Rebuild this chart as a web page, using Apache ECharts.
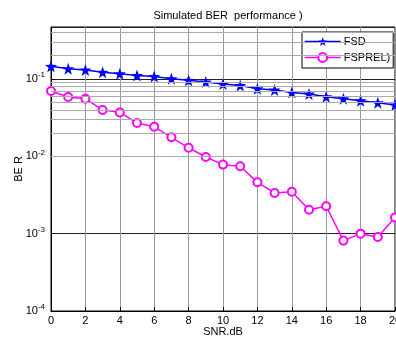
<!DOCTYPE html>
<html>
<head>
<meta charset="utf-8">
<script src="https://cdn.jsdelivr.net/npm/echarts@6/dist/echarts.min.js"></script>
<style>
html,body{margin:0;padding:0;background:#fff;}
#c{width:396px;height:338px;}
</style>
</head>
<body>
<div id="c"></div>
<script>
var snr = [0,1,2,3,4,5,6,7,8,9,10,11,12,13,14,15,16,17,18,19,20];
var fsd = [0.1456,0.136,0.131,0.122,0.117,0.111,0.108,0.101,0.096,0.0915,0.086,0.0826,0.075,0.072,0.067,0.064,0.059,0.0556,0.0524,0.0493,0.046];
var fsprel = [0.070,0.0585,0.0556,0.0397,0.037,0.027,0.0241,0.0176,0.0129,0.0098,0.00781,0.00743,0.00461,0.00336,0.00349,0.00204,0.00226,0.000813,0.00100,0.000905,0.00162];
var yMin = 1e-4, yMax = 0.47;
var minorGrid = [];
[-4,-3,-2,-1].forEach(function(d){
  for (var k=2;k<=9;k++){ var v=k*Math.pow(10,d); if (v<yMax) minorGrid.push(v); }
});
var font = 'Liberation Sans, Arial, sans-serif';
var star = 'path://M0,-10 L2.35,-3.24 L9.51,-3.09 L3.8,1.24 L5.88,8.09 L0,4 L-5.88,8.09 L-3.8,1.24 L-9.51,-3.09 L-2.35,-3.24 Z';
var chart = echarts.init(document.getElementById('c'));
chart.setOption({
  animation:false,
  backgroundColor:'#fff',
  title:{text:'Simulated BER  performance )',left:223,textAlign:'center',top:5,
    textStyle:{fontFamily:font,fontSize:11,fontWeight:'normal',color:'#000'}},
  legend:{
    orient:'vertical',left:302,top:32,
    backgroundColor:'#fff',borderColor:'#000',borderWidth:1,
    padding:[4,3,5,2],itemGap:5,itemWidth:36,itemHeight:11,
    textStyle:{fontFamily:font,fontSize:11,color:'#000',padding:[0,0,0,-2]},
    data:[
      {name:'FSD',itemStyle:{color:'#0000ff'},lineStyle:{color:'#0000ff',width:1.5}},
      {name:'FSPREL)',itemStyle:{color:'#ff00ff'},lineStyle:{color:'#ff00ff',width:1.5}}
    ]
  },
  grid:{left:51,top:27,width:344,height:284,show:true,borderColor:'#000',borderWidth:1,
    backgroundColor:'transparent',outerBoundsMode:'none',containLabel:false},
  xAxis:{type:'value',min:0,max:20,interval:2,
    name:'SNR.dB',nameLocation:'middle',nameGap:15,nameMoveOverlap:false,
    nameTextStyle:{fontFamily:font,fontSize:11,color:'#000'},
    axisLine:{show:true,lineStyle:{color:'#000',width:1}},
    axisTick:{show:true,inside:true,length:4,lineStyle:{color:'#000'}},
    axisLabel:{fontFamily:font,fontSize:11,color:'#000',margin:4},
    splitLine:{show:true,lineStyle:{color:'#999',width:1}}
  },
  yAxis:{type:'log',logBase:10,min:yMin,max:yMax,
    name:'BE R',nameLocation:'middle',nameGap:27,nameRotate:90,nameMoveOverlap:false,
    nameTextStyle:{fontFamily:font,fontSize:11,color:'#000'},
    axisLine:{show:true,lineStyle:{color:'#000',width:1}},
    axisTick:{show:true,inside:true,length:4,lineStyle:{color:'#000'}},
    axisLabel:{fontFamily:font,fontSize:11,color:'#000',margin:6,showMaxLabel:false,
      formatter:function(v){ var e=Math.round(Math.log10(v)); return '10{s|'+e+'}'; },
      rich:{s:{fontFamily:font,fontSize:8,color:'#000',verticalAlign:'top',padding:[0,0,8,0]}}},
    splitLine:{show:true,lineStyle:{color:'#222',width:1}}
  },
  series:[
    {name:'grid',type:'line',data:[],silent:true,
      markLine:{silent:true,symbol:'none',label:{show:false},animation:false,
        lineStyle:{color:'#aaa',width:1,type:'solid'},
        data:minorGrid.map(function(v){return {yAxis:v};})}},
    {name:'FSD',type:'line',data:snr.map(function(x,i){return [x,fsd[i]];}),
      color:'#0000ff',lineStyle:{width:1.5,color:'#0000ff'},
      symbol:star,symbolSize:12,itemStyle:{color:'#0000ff'},z:3},
    {name:'FSPREL)',type:'line',data:snr.map(function(x,i){return [x,fsprel[i]];}),
      color:'#ff00ff',lineStyle:{width:1.5,color:'#ff00ff'},
      symbol:'emptyCircle',symbolSize:8,itemStyle:{color:'#ff00ff',borderColor:'#ff00ff',borderWidth:1.5},z:3}
  ]
});
</script>
</body>
</html>
